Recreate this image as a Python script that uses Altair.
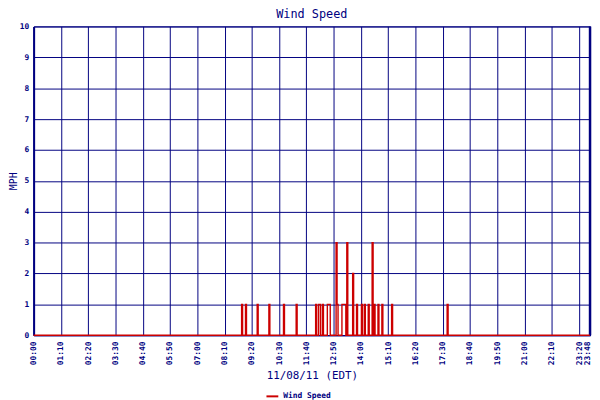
import altair as alt
import pandas as pd

# ---- data ----
tick_labels = ["00:00", "01:10", "02:20", "03:30", "04:40", "05:50", "07:00",
               "08:10", "09:20", "10:30", "11:40", "12:50", "14:00", "15:10",
               "16:20", "17:30", "18:40", "19:50", "21:00", "22:10", "23:20", "23:48"]
y_ticks = [0, 1, 2, 3, 4, 5, 6, 7, 8, 9, 10]

event_times = ["08:56", "09:06", "09:34", "10:04", "10:42", "11:14",
               "12:05", "12:12", "12:15", "12:23", "12:35", "12:38", "12:41",
               "12:58", "13:01", "13:13", "13:15", "13:18", "13:20", "13:26",
               "13:39", "13:51", "14:03", "14:11", "14:21", "14:31", "14:36",
               "14:44", "14:54", "15:19", "17:43"]
event_values = [1, 1, 1, 1, 1, 1,
                1, 1, 1, 1, 1, 1, 1,
                3, 1, 1, 1, 1, 1, 3,
                2, 1, 1, 1, 1, 3, 1,
                1, 1, 1, 1]
sample_step = 2.5  # minutes between samples
series_name = "Wind Speed"


def to_min(s):
    h, m = s.split(":")
    return int(h) * 60 + int(m)


tick_minutes = [to_min(t) for t in tick_labels]
day_end = tick_minutes[-1]
n = int(day_end / sample_step) + 1
values = [0.0] * n
for t, v in zip(event_times, event_values):
    values[round(to_min(t) / sample_step)] = v

df = pd.DataFrame({
    "minute": [k * sample_step for k in range(n)],
    "mph": values,
    "series": [series_name] * n,
})

navy = "#000080"
red = "#CC0000"
mono = "DejaVu Sans Mono"

label_expr = "format(floor(datum.value/60),'02d') + ':' + format(datum.value % 60,'02d')"

x_scale = alt.Scale(domain=[0, day_end], nice=False, zero=False)
x_axis = alt.Axis(values=tick_minutes, tickCount=len(tick_minutes) + 5,
                  labelExpr=label_expr, labelAngle=-90,
                  labelOffset={"condition": {"test": f"datum.value == {day_end}", "value": -3},
                               "value": 0},
                  labelPadding=6, labelFontSize=8, title="11/08/11 (EDT)",
                  titleFontSize=11, titleFont=mono, titleFontWeight="normal",
                  titlePadding=5, domainColor=navy, domainWidth=1,
                  labelOverlap=False, labelFlush=False)
y_axis = alt.Axis(values=y_ticks, tickCount=len(y_ticks) + 2, labelPadding=5,
                  labelFontSize=8, title="MPH",
                  titleFontSize=10, titleFont=mono, titleFontWeight="normal",
                  titlePadding=1, domainColor=navy, domainWidth=2)

line = alt.Chart(df).mark_line(strokeWidth=1.4, interpolate="step").encode(
    x=alt.X("minute:Q", scale=x_scale, axis=x_axis),
    y=alt.Y("mph:Q", scale=alt.Scale(domain=[0, 10], nice=False), axis=y_axis),
    color=alt.Color("series:N", scale=alt.Scale(range=[red]),
                    legend=alt.Legend(orient="none", legendX=235, legendY=368,
                                      title=None, symbolType="stroke",
                                      symbolSize=144, symbolStrokeWidth=2,
                                      labelFont=mono, labelFontWeight="bold",
                                      labelFontSize=8, labelColor=navy,
                                      labelOffset=4, padding=0)),
)

right_edge = alt.Chart(pd.DataFrame({"minute": [day_end]})).mark_rule(
    color=navy, strokeWidth=2.5).encode(x=alt.X("minute:Q", scale=x_scale, axis=x_axis))

chart = alt.layer(right_edge, line).properties(
    width=564,
    height=313,
    autosize=alt.AutoSizeParams(type="none"),
    padding={"left": 26, "top": 16, "right": 2, "bottom": 63},
    title=alt.Title("Wind Speed", font=mono, fontSize=12, fontWeight="normal",
                    color=navy, offset=2, anchor="middle"),
    background="white",
).configure_axis(
    grid=True, gridColor=navy, gridOpacity=1, gridWidth=1,
    ticks=False, tickSize=0,
    labelColor=navy, titleColor=navy, labelFont=mono, labelFontWeight="bold",
).configure_view(stroke=navy, strokeWidth=1)

chart.save("out.html", embed_options={"renderer": "svg", "actions": False})
